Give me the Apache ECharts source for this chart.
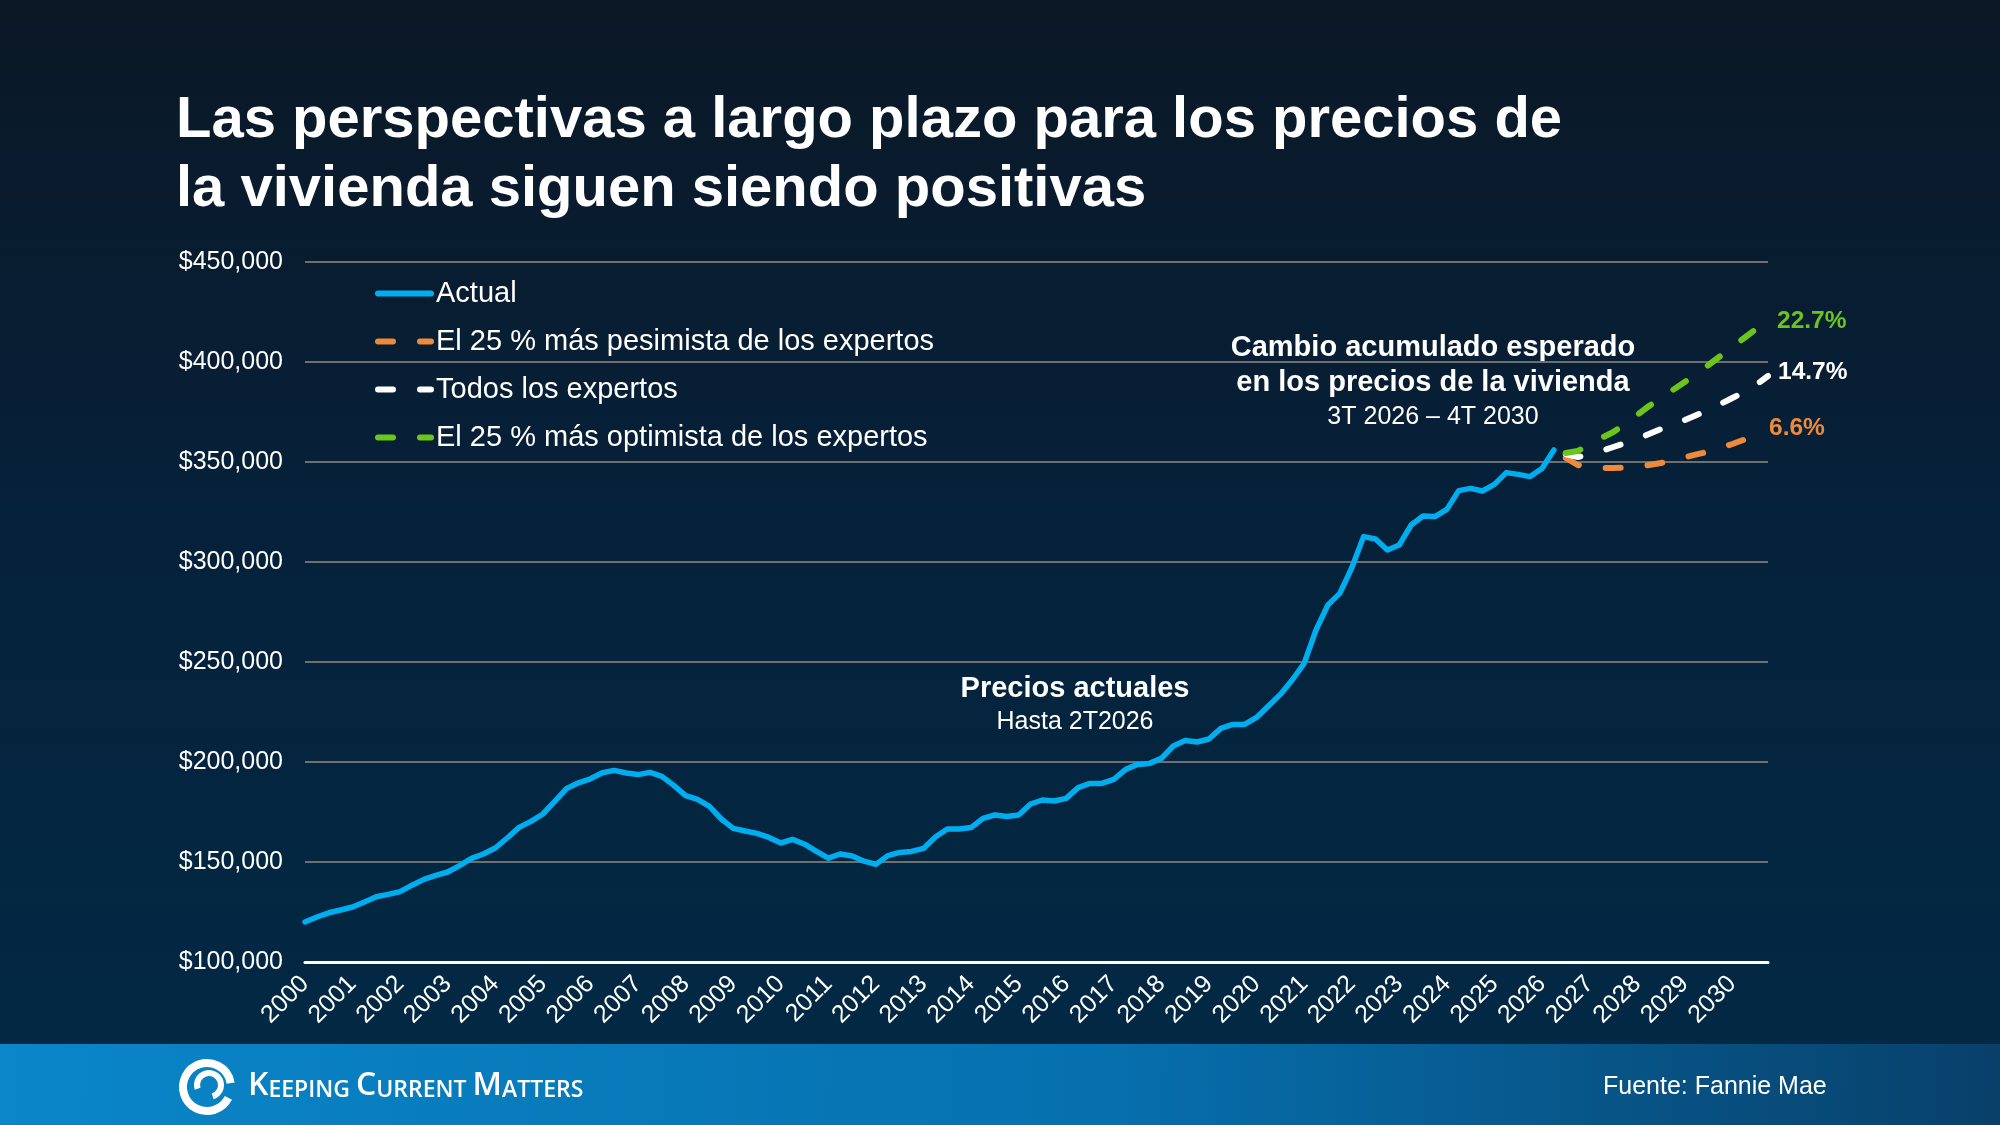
<!DOCTYPE html>
<html>
<head>
<meta charset="utf-8">
<script src="https://cdn.jsdelivr.net/npm/echarts@6/dist/echarts.min.js"></script>
<style>
html,body{margin:0;padding:0;width:2000px;height:1125px;overflow:hidden;background:#07203a;}
#chart{width:2000px;height:1125px;}
</style>
</head>
<body>
<div id="chart"></div>
<script>
// ---- Data ----
const years = [2000,2001,2002,2003,2004,2005,2006,2007,2008,2009,2010,2011,2012,2013,2014,2015,
  2016,2017,2018,2019,2020,2021,2022,2023,2024,2025,2026,2027,2028,2029,2030];
const quarterNames = ['T1','T2','T3','T4'];

// Actual median price, quarterly 2000 T1 .. 2026 T2
const actual = [
  120000,122500,124600,126000,127500,130000,132600,133800,135200,138400,
  141300,143300,145000,148200,151800,154000,157000,162000,167300,170300,
  174000,180300,186800,189600,191600,194600,195800,194500,193700,194800,
  192800,188300,183200,181300,177800,171500,166800,165500,164300,162300,
  159500,161300,158900,155300,151900,154000,153000,150400,148800,153200,
  154800,155300,156800,162500,166500,166500,167200,171800,173500,172700,
  173500,179000,181000,180500,181800,187200,189300,189300,191300,196300,
  198800,199300,201800,208000,210700,210000,211500,216800,218800,218800,
  222300,228000,233800,241000,249300,266000,278500,284300,297000,312700,
  311500,306000,308500,318500,323000,322700,326300,335700,336800,335500,
  338800,344700,343800,342700,346800,356000
];
// Forecasts 2026 T3 .. 2030 T4
const pessimistic = [352000,348500,347300,347000,347000,347200,347800,348500,349500,
  350800,352300,353800,355200,357000,359000,361200,363500,366000];
const allExperts = [354000,352500,353500,355500,357500,359500,361500,364000,366500,
  369000,371000,373500,376000,379000,382000,385000,388500,393000];
const optimistic = [354500,355500,358500,362000,365000,369000,373500,378000,382000,
  386000,390000,394000,398500,403000,407500,412000,416500,421000];

const seriesNames = ['Actual','El 25 % más pesimista de los expertos','Todos los expertos','El 25 % más optimista de los expertos'];
const endLabels = ['6.6%','14.7%','22.7%'];
const yTicks = [100000,150000,200000,250000,300000,350000,400000,450000];

// ---- Build ----
const categories = [];
years.forEach(y => quarterNames.forEach(q => categories.push(y + ' ' + q)));
const forecastStart = actual.length;
const pad = arr => new Array(forecastStart).fill(null).concat(arr);

const FONT = '"Liberation Sans", Arial, Helvetica, sans-serif';
const BLUE = '#00aeef', ORANGE = '#ee8a3b', WHITE = '#ffffff', GREEN = '#6cc51b';

function dashed(name, data, color, label, off) {
  return {
    name, type: 'line', data: pad(data), symbol: 'none', showSymbol: false,
    lineStyle: { color, width: 6, type: [15, 27], cap: 'round' },
    itemStyle: { color },
    endLabel: {
      show: true, formatter: label, color, fontFamily: FONT, fontWeight: 'bold',
      fontSize: 24.5, distance: 0, offset: off
    },
    z: 3
  };
}

const chart = echarts.init(document.getElementById('chart'));
chart.setOption({
  animation: false,
  backgroundColor: {
    type: 'linear', x: 0, y: 0, x2: 0, y2: 1,
    colorStops: [
      { offset: 0, color: '#0b1826' },
      { offset: 0.45, color: '#06213a' },
      { offset: 1, color: '#022a46' }
    ]
  },
  grid: { left: 305, right: 232, top: 262, bottom: 163, containLabel: false },
  legend: {
    data: seriesNames,
    orient: 'vertical', left: 370, top: 274,
    itemWidth: 53, itemHeight: 14, itemGap: 19,
    itemStyle: { opacity: 0 },
    lineStyle: { width: 6, cap: 'round' },
    textStyle: { color: '#ffffff', fontSize: 29, fontFamily: FONT },
    selectedMode: false
  },
  xAxis: {
    type: 'category', data: categories, boundaryGap: false,
    axisLine: { lineStyle: { color: '#ffffff', width: 3 } },
    axisTick: { show: false },
    axisLabel: {
      interval: 3, rotate: 45, color: '#ffffff', fontSize: 25, fontFamily: FONT, margin: 18,
      formatter: v => v.split(' ')[0]
    },
    splitLine: { show: false }
  },
  yAxis: {
    type: 'value', min: yTicks[0], max: yTicks[yTicks.length - 1], interval: 50000,
    axisLine: { show: false }, axisTick: { show: false },
    axisLabel: {
      color: '#ffffff', fontSize: 25, fontFamily: FONT, margin: 22,
      formatter: v => '$' + v.toLocaleString('en-US')
    },
    splitLine: { lineStyle: { color: '#6f6f6f', width: 2 } }
  },
  series: [
    {
      name: seriesNames[0], type: 'line', data: actual, symbol: 'none', showSymbol: false,
      lineStyle: { color: BLUE, width: 5.5, cap: 'round', join: 'round' },
      itemStyle: { color: BLUE }, z: 4
    },
    dashed(seriesNames[1], pessimistic, ORANGE, endLabels[0], [1, -2]),
    dashed(seriesNames[2], allExperts, WHITE, endLabels[1], [10, -4]),
    dashed(seriesNames[3], optimistic, GREEN, endLabels[2], [9, 1])
  ],
  graphic: [
    { type: 'text', left: 176, top: 92, style: { text: 'Las perspectivas a largo plazo para los precios de', fill: '#ffffff', font: 'bold 58px ' + FONT } },
    { type: 'text', left: 176, top: 161, style: { text: 'la vivienda siguen siendo positivas', fill: '#ffffff', font: 'bold 58px ' + FONT } },

    { type: 'text', x: 1433, y: 348, style: { text: 'Cambio acumulado esperado', fill: '#ffffff', font: 'bold 29px ' + FONT, textAlign: 'center', textVerticalAlign: 'middle' } },
    { type: 'text', x: 1433, y: 383, style: { text: 'en los precios de la vivienda', fill: '#ffffff', font: 'bold 29px ' + FONT, textAlign: 'center', textVerticalAlign: 'middle' } },
    { type: 'text', x: 1433, y: 417, style: { text: '3T 2026 – 4T 2030', fill: '#ffffff', font: '25px ' + FONT, textAlign: 'center', textVerticalAlign: 'middle' } },

    { type: 'text', x: 1075, y: 689, style: { text: 'Precios actuales', fill: '#ffffff', font: 'bold 29px ' + FONT, textAlign: 'center', textVerticalAlign: 'middle' } },
    { type: 'text', x: 1075, y: 722, style: { text: 'Hasta 2T2026', fill: '#ffffff', font: '25px ' + FONT, textAlign: 'center', textVerticalAlign: 'middle' } },

    { type: 'rect', shape: { x: 0, y: 1044, width: 2000, height: 81 }, z: -1,
      style: { fill: { type: 'linear', x: 0, y: 0, x2: 1, y2: 0.3,
        colorStops: [ { offset: 0, color: '#0a86c9' }, { offset: 0.55, color: '#0670ae' }, { offset: 1, color: '#08406a' } ] } } },
    { type: 'arc', shape: { cx: 207, cy: 1087, r: 24, startAngle: 0.15 * Math.PI, endAngle: 1.95 * Math.PI }, style: { stroke: '#ffffff', lineWidth: 8, fill: null } },
    { type: 'arc', shape: { cx: 209, cy: 1085, r: 12, startAngle: 0.9 * Math.PI, endAngle: 2.4 * Math.PI }, style: { stroke: '#ffffff', lineWidth: 6, fill: null } },
    { type: 'text', left: 248, top: 1070, style: {
      text: '{b|K}{s|EEPING }{b|C}{s|URRENT }{b|M}{s|ATTERS}',
      rich: {
        b: { fill: '#ffffff', fontSize: 32, fontWeight: 600, fontFamily: '"Open Sans", ' + FONT, verticalAlign: 'bottom' },
        s: { fill: '#ffffff', fontSize: 23, fontWeight: 600, fontFamily: '"Open Sans", ' + FONT, verticalAlign: 'bottom' }
      } } },
    { type: 'text', left: 1603, top: 1075, style: { text: 'Fuente: Fannie Mae', fill: '#ffffff', font: '25px ' + FONT } }
  ]
});
</script>
</body>
</html>
